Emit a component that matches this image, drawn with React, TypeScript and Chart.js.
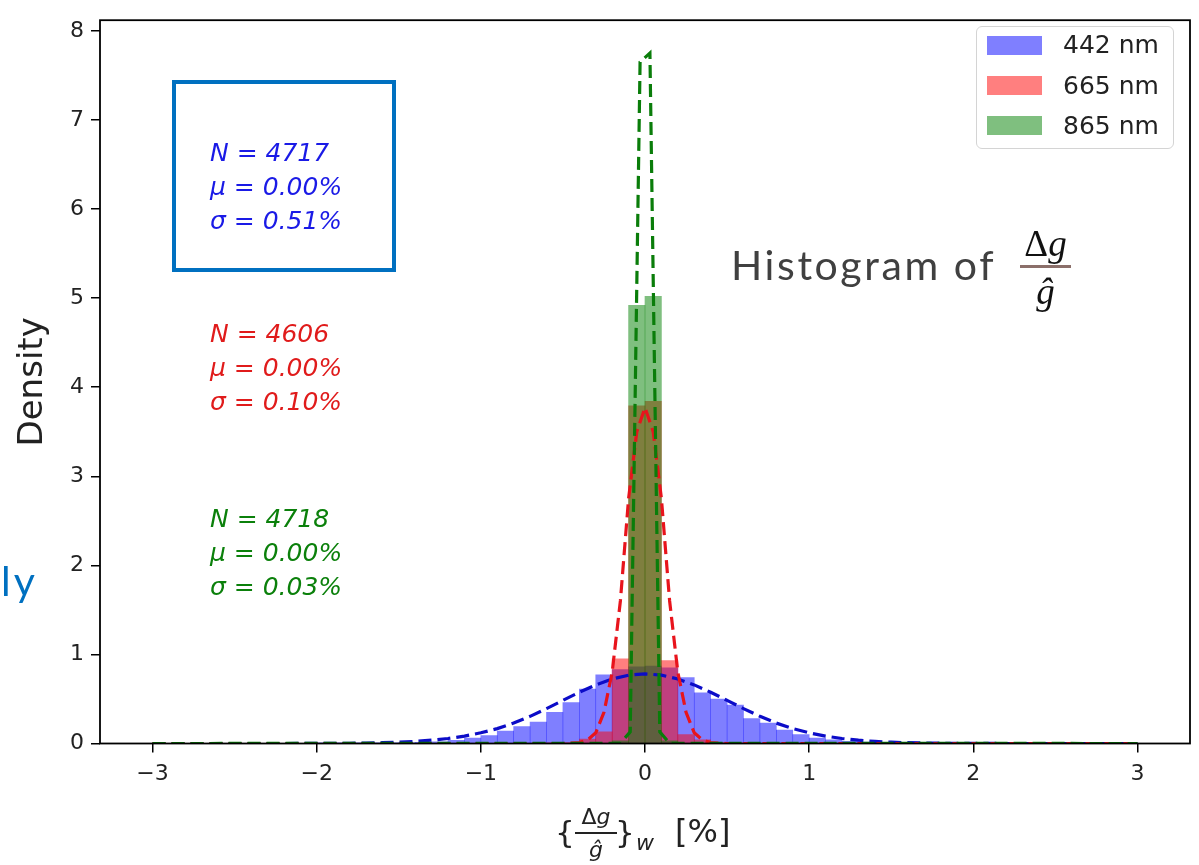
import React, { useEffect, useRef } from "react";
import { Chart, registerables } from "chart.js";

Chart.register(...registerables);

// ---- data ----
const binCenters = [
  -1.95, -1.85, -1.75, -1.65, -1.55, -1.45, -1.35, -1.25, -1.15, -1.05,
  -0.95, -0.85, -0.75, -0.65, -0.55, -0.45, -0.35, -0.25, -0.15, -0.05,
  0.05, 0.15, 0.25, 0.35, 0.45, 0.55, 0.65, 0.75, 0.85, 0.95,
  1.05, 1.15, 1.25, 1.35, 1.45, 1.55, 1.65, 1.75, 1.85, 1.95,
];
const density442 = [
  0.002, 0.003, 0.004, 0.005, 0.006, 0.008, 0.012, 0.02, 0.035, 0.06,
  0.09, 0.14, 0.19, 0.24, 0.35, 0.46, 0.61, 0.77, 0.83, 0.86,
  0.87, 0.85, 0.74, 0.57, 0.5, 0.43, 0.28, 0.23, 0.15, 0.1,
  0.06, 0.04, 0.025, 0.015, 0.01, 0.007, 0.005, 0.004, 0.003, 0.002,
];
const density665 = [
  0, 0, 0, 0, 0, 0, 0, 0, 0, 0,
  0, 0, 0, 0, 0.003, 0.01, 0.05, 0.13, 0.95, 3.79,
  3.84, 0.93, 0.1, 0.04, 0.01, 0.003, 0, 0, 0, 0,
  0, 0, 0, 0, 0, 0, 0, 0, 0, 0,
];
const density865 = [
  0, 0, 0, 0, 0, 0, 0, 0, 0, 0,
  0, 0, 0, 0, 0, 0, 0, 0, 0.03, 4.92,
  5.02, 0.03, 0, 0, 0, 0, 0, 0, 0, 0,
  0, 0, 0, 0, 0, 0, 0, 0, 0, 0,
];

// fitted normal curves (dashed)
const fit442X = [
  -3, -2.2, -2.0, -1.8, -1.7, -1.6, -1.5, -1.4, -1.3, -1.2, -1.1, -1.0,
  -0.9, -0.8, -0.7, -0.6, -0.5, -0.4, -0.3, -0.2, -0.1, 0,
  0.1, 0.2, 0.3, 0.4, 0.5, 0.6, 0.7, 0.8, 0.9, 1.0,
  1.1, 1.2, 1.3, 1.4, 1.5, 1.6, 1.7, 1.8, 2.0, 2.2, 3,
];
const fit442Y = [
  0, 0, 0.001, 0.003, 0.005, 0.009, 0.015, 0.024, 0.037, 0.056, 0.083, 0.12,
  0.167, 0.229, 0.305, 0.392, 0.484, 0.575, 0.658, 0.724, 0.767, 0.782,
  0.767, 0.724, 0.658, 0.575, 0.484, 0.392, 0.305, 0.229, 0.167, 0.12,
  0.083, 0.056, 0.037, 0.024, 0.015, 0.009, 0.005, 0.003, 0.001, 0, 0,
];
const fit665X = [
  -3, -0.5, -0.4, -0.35, -0.3, -0.25, -0.2, -0.15, -0.1, -0.05, 0,
  0.05, 0.1, 0.15, 0.2, 0.25, 0.3, 0.35, 0.4, 0.5, 3,
];
const fit665Y = [
  0, 0, 0.01, 0.04, 0.12, 0.35, 0.8, 1.6, 2.75, 3.5, 3.77,
  3.5, 2.75, 1.6, 0.8, 0.35, 0.12, 0.04, 0.01, 0, 0,
];
const fit865X = [-3, -0.15, -0.09, -0.03, 0.03, 0.09, 0.15, 3];
const fit865Y = [0, 0.002, 0.13, 7.65, 7.75, 0.13, 0.002, 0];

const xTicks = [-3, -2, -1, 0, 1, 2, 3];
const yTicks = [0, 1, 2, 3, 4, 5, 6, 7, 8];
const legendLabels = ["442 nm", "665 nm", "865 nm"];
const statsN = ["4717", "4606", "4718"];
const statsMu = ["0.00%", "0.00%", "0.00%"];
const statsSigma = ["0.51%", "0.10%", "0.03%"];

const BLUE_FILL = "rgba(0,0,255,0.5)";
const RED_FILL = "rgba(255,0,0,0.5)";
const GREEN_FILL = "rgba(0,128,0,0.5)";

const pts = (xs: number[], ys: number[]) => xs.map((x, i) => ({ x, y: ys[i] }));

const framePlugin = {
  id: "frame",
  afterDatasetsDraw(chart: any) {
    const { ctx, chartArea: a } = chart;
    ctx.save();
    ctx.strokeStyle = "#000";
    ctx.lineWidth = 1.8;
    ctx.strokeRect(a.left, a.top, a.right - a.left, a.bottom - a.top);
    ctx.restore();
  },
};

export default function App() {
  const ref = useRef<HTMLCanvasElement>(null);

  useEffect(() => {
    const barCommon = {
      type: "bar" as const,
      grouped: false,
      barPercentage: 1,
      categoryPercentage: 1,
      borderWidth: 0,
    };
    const lineCommon = {
      type: "line" as const,
      borderDash: [13, 6],
      borderWidth: 3.2,
      pointRadius: 0,
      tension: 0,
      fill: false,
    };
    const chart = new Chart(ref.current!, {
      type: "bar",
      data: {
        datasets: [
          { ...lineCommon, label: "fit865", data: pts(fit865X, fit865Y), borderColor: "#0a7d0a", order: 0 },
          { ...lineCommon, label: "fit665", data: pts(fit665X, fit665Y), borderColor: "#e8141c", order: 1 },
          { ...lineCommon, label: "fit442", data: pts(fit442X, fit442Y), borderColor: "#0c0cc8", order: 2 },
          { ...barCommon, label: legendLabels[2], data: pts(binCenters, density865), backgroundColor: GREEN_FILL, order: 3 },
          { ...barCommon, label: legendLabels[1], data: pts(binCenters, density665), backgroundColor: RED_FILL, order: 4 },
          { ...barCommon, label: legendLabels[0], data: pts(binCenters, density442), backgroundColor: BLUE_FILL, order: 5 },
        ] as any,
      },
      options: {
        animation: false,
        responsive: false,
        devicePixelRatio: 1,
        events: [],
        layout: { padding: { top: 10, right: 9, left: 0, bottom: 0 } },
        plugins: { legend: { display: false }, tooltip: { enabled: false } },
        scales: {
          x: {
            type: "linear",
            min: -3.32,
            max: 3.32,
            offset: false,
            afterBuildTicks: (s: any) => {
              s.ticks = xTicks.map((v) => ({ value: v }));
            },
            afterFit: (s: any) => {
              s.height = 121.5;
            },
            grid: { display: true, offset: false, drawOnChartArea: false, drawTicks: true, tickLength: 9, color: "#000", lineWidth: 1.5 },
            border: { display: false },
            ticks: {
              padding: 9,
              color: "#222",
              font: { family: "DejaVu Sans", size: 22 },
              callback: (v: any) => (v < 0 ? "\u2212" + Math.abs(v) : String(v)),
            },
          },
          y: {
            type: "linear",
            min: 0,
            max: 8.12,
            afterBuildTicks: (s: any) => {
              s.ticks = yTicks.map((v) => ({ value: v }));
            },
            afterFit: (s: any) => {
              s.width = 100;
            },
            grid: { display: true, offset: false, drawOnChartArea: false, drawTicks: true, tickLength: 9, color: "#000", lineWidth: 1.5 },
            border: { display: false },
            ticks: { padding: 7, color: "#222", font: { family: "DejaVu Sans", size: 22 } },
            title: {
              display: true,
              text: "Density",
              color: "#222",
              font: { family: "DejaVu Sans", size: 34 },
              padding: { top: 13, bottom: 0 },
            },
          },
        },
      },
      plugins: [framePlugin],
    });
    return () => chart.destroy();
  }, []);

  const abs = (s: React.CSSProperties): React.CSSProperties => ({ position: "absolute", whiteSpace: "nowrap", ...s });
  const statColors = ["#1a1ae6", "#e01b1b", "#0b800b"];
  const statTops = [135.5, 316.5, 501.5];
  const legendFills = [BLUE_FILL, RED_FILL, GREEN_FILL];
  const legendCenters = [45, 85.5, 125.5];

  return (
    <div style={{ position: "absolute", left: 0, top: 0, width: 1199, height: 865, background: "#fff", overflow: "hidden" }}>
      <canvas ref={ref} width={1199} height={865} style={{ position: "absolute", left: 0, top: 0 }} />

      {/* legend */}
      <div style={abs({ left: 976, top: 26, width: 198, height: 123, border: "1.5px solid #d4d4d4", borderRadius: 6, background: "rgba(255,255,255,0.8)", boxSizing: "border-box" })} />
      {legendLabels.map((l, i) => (
        <React.Fragment key={l}>
          <div style={abs({ left: 987, top: legendCenters[i] - 9.5, width: 55, height: 19, background: legendFills[i] })} />
          <div style={abs({ left: 1063, top: legendCenters[i] - 15, height: 30, lineHeight: "30px", fontFamily: "DejaVu Sans", fontSize: 25, color: "#222" })}>{l}</div>
        </React.Fragment>
      ))}

      {/* blue box */}
      <div style={abs({ left: 172, top: 80, width: 224, height: 192, border: "4.5px solid #0070C0", boxSizing: "border-box" })} />

      {/* stats */}
      {statsN.map((n, i) => (
        <div key={n + i} style={abs({ left: 210, top: statTops[i], fontFamily: "DejaVu Sans", fontStyle: "italic", fontSize: 25, lineHeight: "34px", color: statColors[i] })}>
          <div>N = {n}</div>
          <div>μ = {statsMu[i]}</div>
          <div>σ = {statsSigma[i]}</div>
        </div>
      ))}

      {/* Histogram of Δg / ĝ */}
      <div style={abs({ left: 731, top: 240, fontFamily: "Lato", fontSize: 41, lineHeight: "50px", letterSpacing: "2.6px", color: "#404040" })}>Histogram of</div>
      <div style={abs({ left: 1018, top: 224, width: 55, textAlign: "center", fontFamily: "Liberation Serif", fontSize: 37, lineHeight: "40px", color: "#111" })}>
        Δ<i>g</i>
      </div>
      <div style={abs({ left: 1020, top: 265, width: 51, height: 3, background: "#8b6f6a" })} />
      <div style={abs({ left: 1018, top: 272, width: 55, textAlign: "center", fontFamily: "Liberation Serif", fontStyle: "italic", fontSize: 37, lineHeight: "40px", color: "#111" })}>
        ĝ
      </div>

      {/* "ly" fragment */}
      <div style={abs({ left: 1, top: 556, fontFamily: "Lato", fontSize: 41, lineHeight: "50px", letterSpacing: "3px", color: "#0070C0" })}>ly</div>

      {/* x axis label */}
      <div style={abs({ left: 555, top: 812, fontFamily: "DejaVu Sans", fontSize: 31, lineHeight: "40px", color: "#222" })}>{"{"}</div>
      <div style={abs({ left: 573, top: 804, width: 46, textAlign: "center", fontFamily: "DejaVu Sans", fontSize: 22, lineHeight: "26px", color: "#222" })}>
        Δ<i>g</i>
      </div>
      <div style={abs({ left: 575, top: 832, width: 42, height: 1.6, background: "#222" })} />
      <div style={abs({ left: 573, top: 837, width: 46, textAlign: "center", fontFamily: "DejaVu Sans", fontStyle: "italic", fontSize: 22, lineHeight: "26px", color: "#222" })}>
        ĝ
      </div>
      <div style={abs({ left: 615, top: 812, fontFamily: "DejaVu Sans", fontSize: 31, lineHeight: "40px", color: "#222" })}>{"}"}</div>
      <div style={abs({ left: 636, top: 830, fontFamily: "DejaVu Sans", fontStyle: "italic", fontSize: 22, lineHeight: "26px", color: "#222" })}>w</div>
      <div style={abs({ left: 675, top: 811, fontFamily: "DejaVu Sans", fontSize: 32, lineHeight: "40px", color: "#222" })}>[%]</div>
    </div>
  );
}
